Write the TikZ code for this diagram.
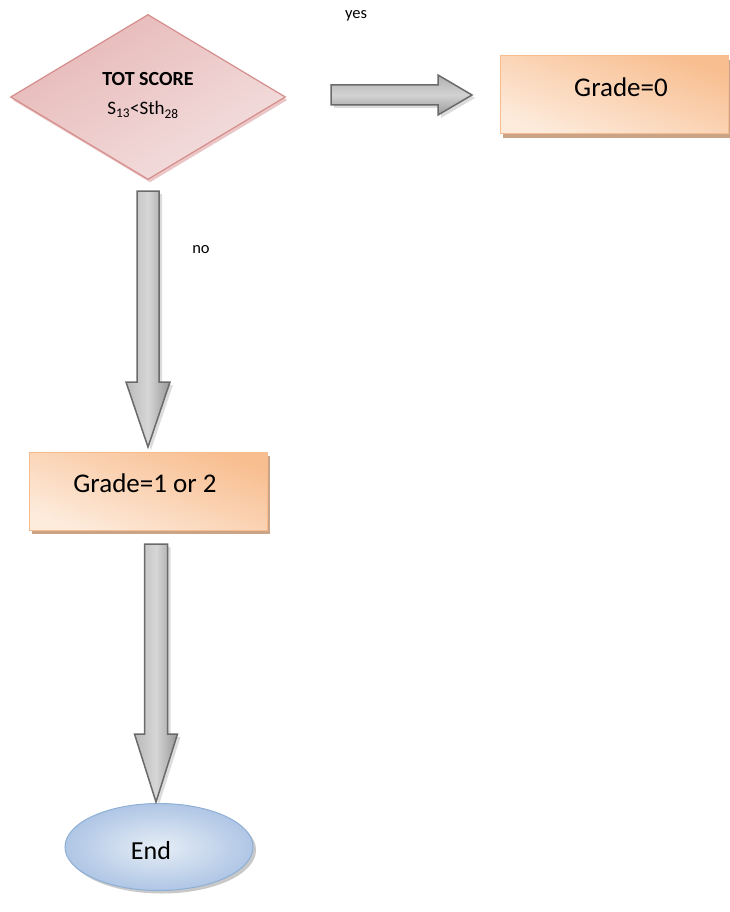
\documentclass[tikz,border=0pt]{standalone}
\usepackage{fontspec}
\setmainfont{Carlito}
\usetikzlibrary{shapes.geometric,shadows}

\definecolor{diaA}{HTML}{E6B8B7}
\definecolor{diaB}{HTML}{F4E0E0}
\definecolor{diaLine}{HTML}{D58E8C}
\definecolor{boxA}{HTML}{F8BE90}
\definecolor{boxB}{HTML}{FDEBDC}
\definecolor{boxLine}{HTML}{F6BB8E}
\definecolor{boxShade}{HTML}{C9A487}
\definecolor{endA}{HTML}{AFC6E5}
\definecolor{endB}{HTML}{E6EDF6}
\definecolor{endLine}{HTML}{8FB0D6}
\definecolor{arrLine}{HTML}{6A6A6A}

\tikzset{
  decision/.style={diamond, draw=diaLine, line width=1.2pt, inner sep=0pt,
    minimum width=275pt, minimum height=165pt,
    top color=diaA, bottom color=diaB, shading angle=30,
    drop shadow={shadow xshift=2pt, shadow yshift=-3pt, fill=diaLine!70, opacity=0.7},
    align=center},
  gradebox/.style={rectangle, draw=boxLine, line width=1pt, inner sep=0pt,
    top color=boxA, bottom color=boxB, shading angle=-20,
    drop shadow={shadow xshift=3pt, shadow yshift=-4pt, fill=boxShade, opacity=1},
    font=\fontsize{27}{30}\selectfont},
  terminal/.style={ellipse, draw=endLine, line width=1pt, inner sep=0pt,
    minimum width=188pt, minimum height=87pt,
    inner color=endB, outer color=endA,
    drop shadow={shadow xshift=3pt, shadow yshift=-3pt, fill=gray!60, opacity=0.7},
    font=\fontsize{26}{30}\selectfont},
  hblock/.style={draw=arrLine, line width=1.5pt, line join=miter,
    top color=gray!62, bottom color=gray!80, middle color=gray!35,
    drop shadow={shadow xshift=3pt, shadow yshift=-3pt, fill=gray!45, opacity=0.6}},
  vblock/.style={draw=arrLine, line width=1.5pt, line join=miter,
    left color=gray!55, right color=gray!82, middle color=gray!32,
    drop shadow={shadow xshift=3pt, shadow yshift=-3pt, fill=gray!45, opacity=0.6}},
  tag/.style={font=\fontsize{16.5}{19}\selectfont, inner sep=0pt}
}

\begin{document}
\begin{tikzpicture}[x=1pt, y=-1pt]
  \useasboundingbox[fill=white] (0,0) rectangle (730,912);

  % decision and outcomes
  \node[decision] (score) at (148,97) {};
  \node[font=\bfseries\fontsize{20}{24}\selectfont, inner sep=0pt] (scoreTitle) at (148,79) {TOT SCORE};
  \node[font=\fontsize{19}{22}\selectfont, inner sep=0pt] (scoreRule) at (143,110)
    {S\textsubscript{13}<Sth\textsubscript{28}};

  \node[gradebox, minimum width=228pt, minimum height=78pt] (gradeZero) at (614,95) {};
  \node[font=\fontsize{27}{30}\selectfont, inner sep=0pt] (gradeZeroText) at (621,87) {Grade=0};

  \node[gradebox, minimum width=238pt, minimum height=78pt] (gradeOne) at (148,491) {};
  \node[font=\fontsize{27}{30}\selectfont, inner sep=0pt] (gradeOneText) at (145,483) {Grade=1 or 2};

  \node[terminal] (finish) at (159,847) {};
  \node[font=\fontsize{26}{30}\selectfont, inner sep=0pt] (finishText) at (151,851) {End};

  % branch labels
  \node[tag] (yes) at (356,16) {yes};
  \node[tag] (no) at (201,250) {no};

  % block arrows: start and tip of each
  \coordinate (yesStart) at (331,95);
  \coordinate (yesTip) at (472,95);
  \coordinate (noStart) at (148,191);
  \coordinate (noTip) at (148,447);
  \coordinate (endStart) at (156,544);
  \coordinate (endTip) at (156,802);

  \path[hblock] (yesStart) ++(0,-10) -- ++(107,0) -- ++(0,-10) -- (yesTip)
    -- ++(-34,20) -- ++(0,-10) -- ++(-107,0) -- cycle;

  \path[vblock] (noStart) ++(-11,0) -- ++(0,191) -- ++(-11,0) -- (noTip)
    -- ++(22,-65) -- ++(-11,0) -- ++(0,-191) -- cycle;

  \path[vblock] (endStart) ++(-11.5,0) -- ++(0,190) -- ++(-10,0) -- (endTip)
    -- ++(21.5,-68) -- ++(-10,0) -- ++(0,-190) -- cycle;
\end{tikzpicture}
\end{document}
